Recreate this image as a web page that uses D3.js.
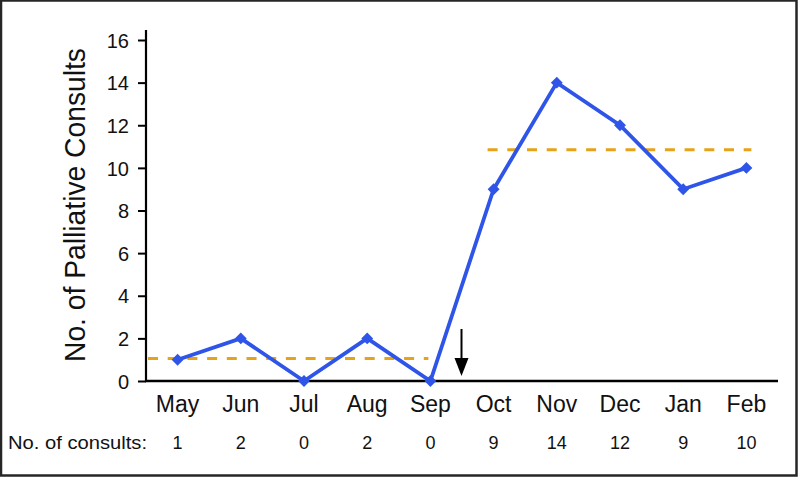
<!DOCTYPE html>
<html>
<head>
<meta charset="utf-8">
<script src="https://cdn.jsdelivr.net/npm/d3@7"></script>
<style>
  html, body { margin: 0; padding: 0; background: #fff; }
  svg { display: block; }
</style>
</head>
<body>
<svg id="chart" width="799" height="477"></svg>
<script>
const months = ["May", "Jun", "Jul", "Aug", "Sep", "Oct", "Nov", "Dec", "Jan", "Feb"];
const consults = [1, 2, 0, 2, 0, 9, 14, 12, 9, 10];
const yTicks = [0, 2, 4, 6, 8, 10, 12, 14, 16];
const preMonths = ["May", "Jun", "Jul", "Aug", "Sep"];
const postMonths = ["Oct", "Nov", "Dec", "Jan", "Feb"];
const preMean = 1.05;
const postMean = 10.85;
const interventionAfter = "Sep";

const svg = d3.select("#chart");
const W = 799, H = 477;
const blue = "#2f55e8", orange = "#e6a219";

// frame
svg.append("rect").attr("x", 1).attr("y", 0.5).attr("width", W - 3.5).attr("height", H - 2)
  .attr("fill", "#fff").attr("stroke", "#262626").attr("stroke-width", 2.5);

const x = d3.scalePoint().domain(months).range([146, 778]).padding(0.5);
const y = d3.scaleLinear().domain([0, 16]).range([381, 40]);

// y axis
const yAxis = d3.axisLeft(y).tickValues(yTicks).tickSize(8).tickSizeOuter(0).tickPadding(9);
const gy = svg.append("g").attr("transform", "translate(146,0)").call(yAxis);
gy.select(".domain").remove();
gy.selectAll(".tick line").attr("stroke", "#000").attr("stroke-width", 2);
gy.selectAll(".tick text").attr("font-family", "Liberation Sans, Arial, sans-serif")
  .attr("font-size", 20).attr("fill", "#111").attr("dy", "0.36em");
svg.append("line").attr("x1", 146).attr("x2", 146).attr("y1", 30).attr("y2", y(0) + 1)
  .attr("stroke", "#000").attr("stroke-width", 2.2);

// x axis line
svg.append("line").attr("x1", 145).attr("x2", 778).attr("y1", y(0)).attr("y2", y(0))
  .attr("stroke", "#000").attr("stroke-width", 2.4);

// month labels
svg.append("g").selectAll("text").data(months).join("text")
  .attr("x", d => x(d)).attr("y", 412)
  .attr("text-anchor", "middle")
  .attr("font-family", "Liberation Sans, Arial, sans-serif").attr("font-size", 23).attr("fill", "#111")
  .text(d => d);

// consult counts row
svg.append("text").attr("x", 8).attr("y", 449)
  .attr("font-family", "Liberation Sans, Arial, sans-serif").attr("font-size", 18).attr("fill", "#111")
  .attr("textLength", 139).attr("lengthAdjust", "spacingAndGlyphs")
  .text("No. of consults:");
svg.append("g").selectAll("text").data(months).join("text")
  .attr("x", d => x(d)).attr("y", 449)
  .attr("text-anchor", "middle")
  .attr("font-family", "Liberation Sans, Arial, sans-serif").attr("font-size", 18).attr("fill", "#111")
  .text((d, i) => consults[i]);

// y title
svg.append("text")
  .attr("transform", "translate(85,205) rotate(-90)")
  .attr("text-anchor", "middle")
  .attr("font-family", "Liberation Sans, Arial, sans-serif").attr("font-size", 29).attr("fill", "#111")
  .attr("textLength", 314).attr("lengthAdjust", "spacingAndGlyphs")
  .text("No. of Palliative Consults");

// mean lines
svg.append("line")
  .attr("x1", 148).attr("x2", x(preMonths[preMonths.length - 1]) - 2)
  .attr("y1", y(preMean)).attr("y2", y(preMean))
  .attr("stroke", orange).attr("stroke-width", 3).attr("stroke-dasharray", "10,9.7");
svg.append("line")
  .attr("x1", x(postMonths[0]) - 6).attr("x2", x(postMonths[postMonths.length - 1]) + 5)
  .attr("y1", y(postMean)).attr("y2", y(postMean))
  .attr("stroke", orange).attr("stroke-width", 3).attr("stroke-dasharray", "10,9.7");

// series line
const line = d3.line().x((d, i) => x(months[i])).y(d => y(d));
svg.append("path").datum(consults).attr("d", line)
  .attr("fill", "none").attr("stroke", blue).attr("stroke-width", 3.8).attr("stroke-linejoin", "miter");

// markers
svg.append("g").selectAll("path").data(consults).join("path")
  .attr("transform", (d, i) => `translate(${x(months[i])},${y(d)})`)
  .attr("d", d3.symbol(d3.symbolDiamond2, 90))
  .attr("fill", blue);

// arrow
const idx = months.indexOf(interventionAfter);
const ax = (x(months[idx]) + x(months[idx + 1])) / 2 - 0.5;
svg.append("line").attr("x1", ax).attr("x2", ax).attr("y1", 329).attr("y2", 362)
  .attr("stroke", "#000").attr("stroke-width", 2);
svg.append("path")
  .attr("d", `M${ax - 7},${358} L${ax + 7},${358} L${ax},${376} Z`)
  .attr("fill", "#000");
</script>
</body>
</html>
